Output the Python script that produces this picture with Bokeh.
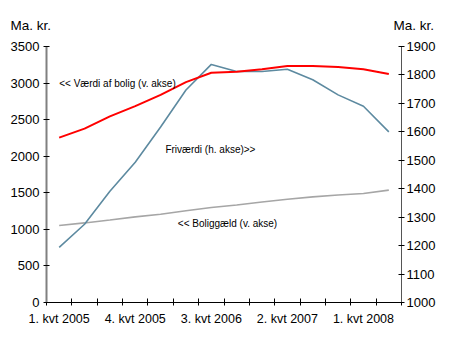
from bokeh.plotting import figure
from bokeh.models import Range1d, LinearAxis, FixedTicker, Label, Title
from bokeh.embed import file_html
from bokeh.resources import INLINE

quarters = ["1. kvt 2005", "2. kvt 2005", "3. kvt 2005", "4. kvt 2005",
            "1. kvt 2006", "2. kvt 2006", "3. kvt 2006", "4. kvt 2006",
            "1. kvt 2007", "2. kvt 2007", "3. kvt 2007", "4. kvt 2007",
            "1. kvt 2008", "2. kvt 2008"]
vaerdi_bolig = [2254, 2377, 2544, 2684, 2838, 3013, 3141, 3154, 3189, 3233, 3233, 3220, 3189, 3123]
friv = [1194, 1275, 1391, 1493, 1617, 1747, 1837, 1812, 1812, 1820, 1783, 1730, 1690, 1600]
boliggaeld = [1053, 1088, 1128, 1171, 1207, 1254, 1299, 1333, 1373, 1412, 1444, 1470, 1491, 1536]
left_ticks = [0, 500, 1000, 1500, 2000, 2500, 3000, 3500]
right_ticks = [1000, 1100, 1200, 1300, 1400, 1500, 1600, 1700, 1800, 1900]
label_idx = [0, 3, 6, 9, 12]
unit_text = "Ma. kr."

xs = list(range(len(quarters)))
FONT = "Liberation Sans"
W, H = 441, 329
BL, BR, BT, BB = 46, 40, 46, 27

p = figure(width=W, height=H, output_backend="svg", toolbar_location=None, title=None,
           x_range=Range1d(-0.5, len(quarters) - 0.5), y_range=Range1d(0, 3500),
           min_border_left=BL, min_border_right=BR, min_border_top=BT, min_border_bottom=BB)
p.extra_y_ranges = {"right": Range1d(1000, 1900)}
p.outline_line_color = None
p.grid.visible = False
p.background_fill_color = "white"
p.border_fill_color = "white"

# unit captions as two titles on one line (inner one sized, outer one pulled back down)
S_IN = 28
S_OUT = S_IN - 2 * (2 + 15.5 + S_IN)
for img_x, so in ((10, S_IN), (393, S_OUT)):
    p.add_layout(Title(text=unit_text, align="left", offset=img_x - BL, standoff=so,
                       text_font=FONT, text_font_size="13.5px", text_font_style="normal",
                       text_color="black"), "above")

# series
p.line(xs, boliggaeld, line_color="#a6a6a6", line_width=1.6)
p.line(xs, friv, line_color="#5d8aa0", line_width=1.6, y_range_name="right")
p.line(xs, vaerdi_bolig, line_color="#ff0000", line_width=2)

# x axis
xa = p.xaxis[0]
xa.ticker = FixedTicker(ticks=label_idx, minor_ticks=[i - 0.5 for i in range(len(quarters) + 1)])
xa.major_label_overrides = {i: quarters[i] for i in label_idx}
xa.major_tick_in = 0
xa.major_tick_out = 0
xa.minor_tick_in = 4
xa.minor_tick_out = 3
xa.minor_tick_line_color = "black"
xa.axis_line_color = "black"
xa.major_label_standoff = 6
xa.major_label_text_font = FONT
xa.major_label_text_font_size = "12.5px"
xa.major_label_text_color = "black"

# left axis
ya = p.yaxis[0]
ya.ticker = FixedTicker(ticks=left_ticks)
ya.minor_tick_line_color = None
ya.major_tick_in = 3
ya.major_tick_out = 3
ya.major_tick_line_color = "black"
ya.axis_line_color = "#808080"
ya.axis_line_width = 2
ya.major_label_standoff = 4
ya.major_label_text_font = FONT
ya.major_label_text_font_size = "13px"
ya.major_label_text_color = "black"

# right axis
ra = LinearAxis(y_range_name="right", ticker=FixedTicker(ticks=right_ticks))
ra.minor_tick_line_color = None
ra.major_tick_in = 3
ra.major_tick_out = 3
ra.major_tick_line_color = "black"
ra.axis_line_color = "#555555"
ra.axis_line_width = 1
ra.major_label_standoff = 2
ra.major_label_text_font = FONT
ra.major_label_text_font_size = "13px"
ra.major_label_text_color = "black"
p.add_layout(ra, "right")

# annotations inside the plot
def lab(x, y, text, size="10px", rng="default"):
    p.add_layout(Label(x=x, y=y, text=text, text_font=FONT, text_font_size=size,
                       text_align="left", text_baseline="middle", text_color="black",
                       y_range_name=rng))

lab(0.0, 3000, "<< Værdi af bolig (v. akse)")
lab(4.19, 1538, "Friværdi (h. akse)>>", rng="right")
lab(4.68, 1079, "<< Boliggæld (v. akse)")

open("out.html", "w").write(file_html(p, INLINE))
